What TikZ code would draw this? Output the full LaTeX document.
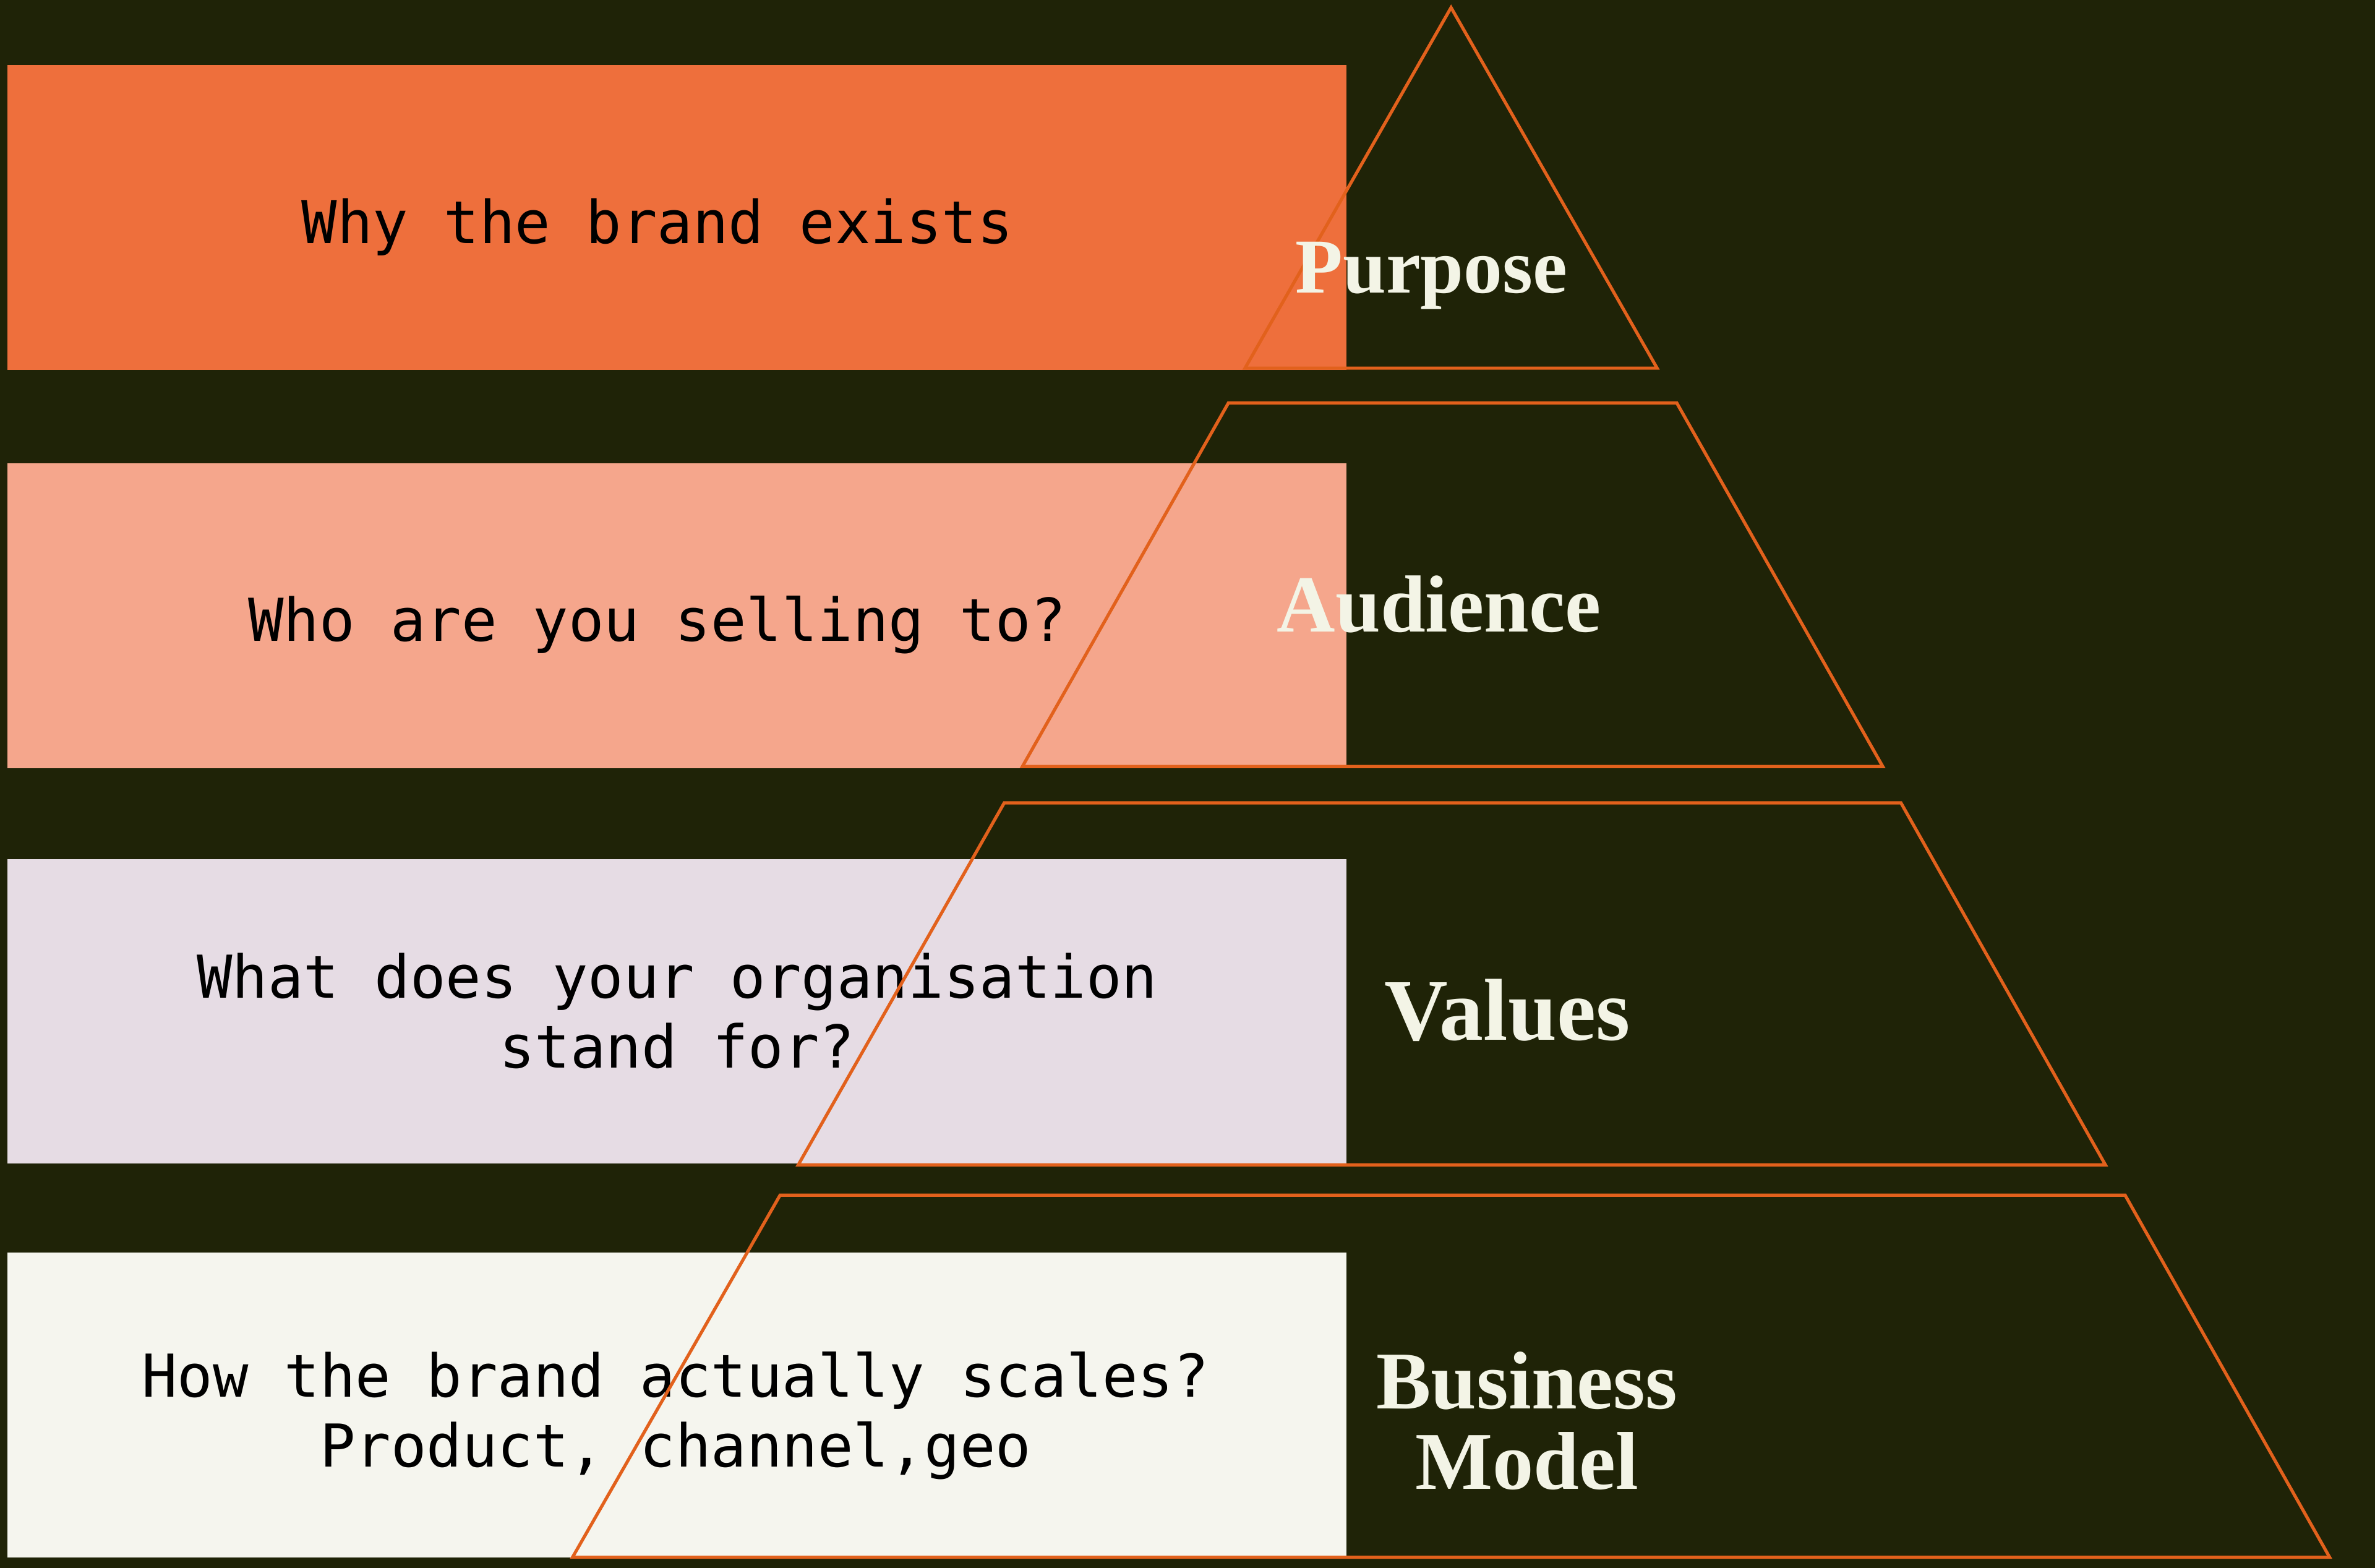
\documentclass[tikz,border=0pt]{standalone}
\usepackage{fontspec}
\setmainfont{Liberation Serif}
\setmonofont{DejaVu Sans Mono}
\usepackage{xcolor}
\usetikzlibrary{positioning}

\definecolor{bgdark}{HTML}{1F2307}
\definecolor{rustline}{HTML}{E2611C}
\definecolor{tierA}{HTML}{EE6F3C}
\definecolor{tierB}{HTML}{F5A68C}
\definecolor{tierC}{HTML}{E6DCE4}
\definecolor{tierD}{HTML}{F5F5EE}
\definecolor{cream}{HTML}{F3F4E6}

\begin{document}
\begin{tikzpicture}
      [ card/.style={rectangle, minimum width=8.84cm, minimum height=2.01cm, inner sep=0pt},
        prompt/.style={align=center, text=black, inner sep=0pt,
          font=\ttfamily\fontsize{11.1}{13.1}\selectfont},
        tier/.style={draw=rustline, line width=0.6pt, line join=miter},
        level/.style={text=cream, align=center, inner sep=0pt}
      ]
      \fill[bgdark] (0,0) rectangle (15.68,10.35);
      \useasboundingbox (0,0) rectangle (15.68,10.35);

      \node[card, fill=tierA] (why)  at (4.47,8.915) {};
      \node[card, fill=tierB] (who)  at (4.47,6.285) {};
      \node[card, fill=tierC] (what) at (4.47,3.675) {};
      \node[card, fill=tierD] (how)  at (4.47,1.075) {};

      \node[prompt] (whytext)  at ([xshift=-1.3mm,yshift=-0.65mm]why.center)  {Why the brand exists};
      \node[prompt] (whotext)  at ([xshift=-1.3mm,yshift=-0.6mm]who.center)   {Who are you selling to?};
      \node[prompt] (whattext) at (what.center)                               {What does your organisation\\stand for?};
      \node[prompt] (howtext)  at ([xshift=-0.1mm,yshift=-0.7mm]how.center)   {How the brand actually scales?\\Product, channel,geo};

      % pyramid tiers
      \draw[tier] (9.58,10.30) -- (10.94,7.92) -- (8.22,7.92) -- cycle;
      \draw[tier] (8.11,7.69) -- (11.07,7.69) -- (12.43,5.29) -- (6.75,5.29) -- cycle;
      \draw[tier] (6.63,5.05) -- (12.55,5.05) -- (13.90,2.66) -- (5.27,2.66) -- cycle;
      \draw[tier] (5.15,2.46) -- (14.03,2.46) -- (15.38,0.07) -- (3.78,0.07) -- cycle;

      \node[level, font=\bfseries\fontsize{14.6}{16}\selectfont] (purpose)  at (9.45,8.53) {Purpose};
      \node[level, font=\bfseries\fontsize{15.2}{16}\selectfont] (audience) at (9.50,6.36) {Audience};
      \node[level, font=\bfseries\fontsize{16.5}{18}\selectfont] (values)   at (9.95,3.68) {Values};
      \node[level, font=\bfseries\fontsize{15.4}{15}\selectfont] (business) at (10.08,0.97) {Business\\Model};
    \end{tikzpicture}
\end{document}
